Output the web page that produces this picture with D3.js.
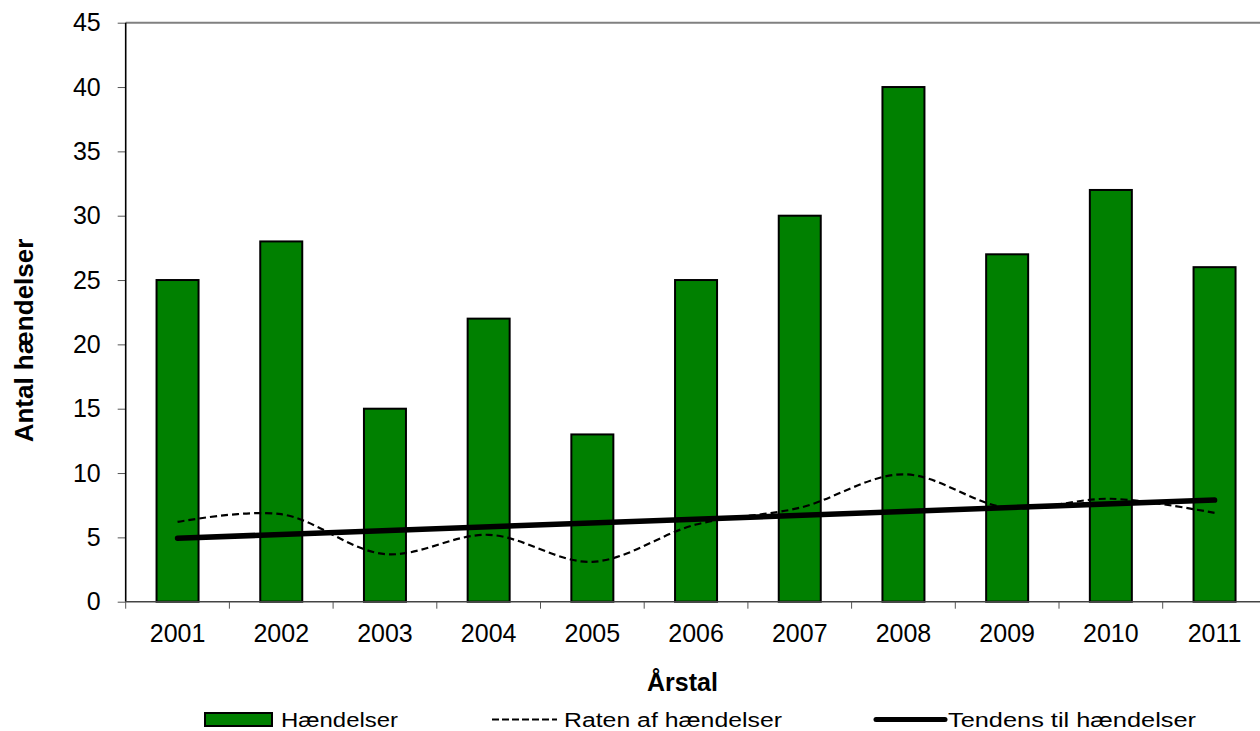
<!DOCTYPE html>
<html>
<head>
<meta charset="utf-8">
<script src="https://cdn.jsdelivr.net/npm/d3@7/dist/d3.min.js"></script>
<style>
html, body { margin: 0; padding: 0; background: #fff; overflow: hidden; }
svg { display: block; font-family: "Liberation Sans", Arial, sans-serif; }
</style>
</head>
<body>
<svg id="chart" width="1260" height="731"></svg>
<script>
// ---- data ----
const years = ["2001","2002","2003","2004","2005","2006","2007","2008","2009","2010","2011"];
const events = [25, 28, 15, 22, 13, 25, 30, 40, 27, 32, 26];          // Hændelser
const rate = [6.2, 6.8, 3.7, 5.2, 3.1, 6.0, 7.3, 9.9, 7.3, 8.0, 6.9];  // Raten af hændelser
const trendYears = ["2001", "2011"];
const trendValues = [4.93, 7.9];                                      // Tendens til hændelser
const yTicks = [0, 5, 10, 15, 20, 25, 30, 35, 40, 45];
const legendLabels = ["Hændelser", "Raten af hændelser", "Tendens til hændelser"];
const xTitle = "Årstal";
const yTitle = "Antal hændelser";

(function () {
// ---- layout ----
const pL = 125.7, pR = 1266.4, pT = 22.7, pB = 601.7;
const svg = d3.select("#chart");

const x = d3.scaleBand().domain(years).range([pL, pR]).paddingInner(0).paddingOuter(0);
const y = d3.scaleLinear().domain([0, 45]).range([pB, pT]);
const barW = x.bandwidth() * 0.405;
const cx = d => x(d) + x.bandwidth() / 2;

// top border
svg.append("line").attr("x1", pL).attr("x2", 1260).attr("y1", y(45)).attr("y2", y(45))
  .attr("stroke", "#808080").attr("stroke-width", 2);

// bars
svg.append("g").selectAll("rect").data(years).join("rect")
  .attr("x", (d) => cx(d) - barW / 2)
  .attr("y", (d, i) => y(events[i]))
  .attr("width", barW)
  .attr("height", (d, i) => y(0) - y(events[i]))
  .attr("fill", "#008000")
  .attr("stroke", "#000")
  .attr("stroke-width", 2);

// y axis
const yAxis = svg.append("g").attr("transform", `translate(${pL},0)`)
  .call(d3.axisLeft(y).tickValues(yTicks).tickSize(8).tickPadding(17).tickFormat(d3.format("d")));
yAxis.select(".domain").remove();
yAxis.selectAll(".tick line").attr("stroke", "#555").attr("stroke-width", 1);
yAxis.selectAll(".tick text").attr("font-size", 25).attr("fill", "#000")
  .attr("font-family", "Liberation Sans, Arial, sans-serif");
svg.append("line").attr("x1", pL).attr("x2", pL).attr("y1", pT).attr("y2", pB)
  .attr("stroke", "#000").attr("stroke-width", 1.6);

// x axis
const xAxis = svg.append("g").attr("transform", `translate(0,${pB})`)
  .call(d3.axisBottom(x).tickSize(0).tickPadding(23));
xAxis.select(".domain").remove();
xAxis.selectAll(".tick text").attr("font-size", 25).attr("fill", "#000")
  .attr("font-family", "Liberation Sans, Arial, sans-serif");
svg.append("line").attr("x1", pL).attr("x2", 1260).attr("y1", pB).attr("y2", pB)
  .attr("stroke", "#444").attr("stroke-width", 1.6);
// category boundary ticks
svg.append("g").selectAll("line").data(years).join("line")
  .attr("x1", d => x(d)).attr("x2", d => x(d))
  .attr("y1", pB).attr("y2", pB + 7)
  .attr("stroke", "#555").attr("stroke-width", 1);

// rate line (smoothed, dashed)
const rateLine = d3.line().x((d, i) => cx(years[i])).y(d => y(d)).curve(d3.curveCatmullRom.alpha(0.5));
svg.append("path").attr("d", rateLine(rate))
  .attr("fill", "none").attr("stroke", "#000").attr("stroke-width", 2.2)
  .attr("stroke-dasharray", "7,4");

// trend line
const trendLine = d3.line().x((d, i) => cx(trendYears[i])).y(d => y(d));
svg.append("path").attr("d", trendLine(trendValues))
  .attr("fill", "none").attr("stroke", "#000").attr("stroke-width", 5.5)
  .attr("stroke-linecap", "round");

// axis titles
svg.append("text").attr("x", 682.5).attr("y", 690.5).attr("text-anchor", "middle")
  .attr("font-size", 25).attr("font-weight", "bold").text(xTitle);
svg.append("text").attr("transform", "translate(33,340.5) rotate(-90)").attr("text-anchor", "middle")
  .attr("font-size", 26).attr("font-weight", "bold").text(yTitle);

// legend
const lg = svg.append("g");
lg.append("rect").attr("x", 205).attr("y", 713).attr("width", 67).attr("height", 13)
  .attr("fill", "#008000").attr("stroke", "#000").attr("stroke-width", 2);
lg.append("line").attr("x1", 492).attr("x2", 557).attr("y1", 719.5).attr("y2", 719.5)
  .attr("stroke", "#000").attr("stroke-width", 2).attr("stroke-dasharray", "7,3");
lg.append("line").attr("x1", 876).attr("x2", 945).attr("y1", 719.5).attr("y2", 719.5)
  .attr("stroke", "#000").attr("stroke-width", 5).attr("stroke-linecap", "round");
const legendPos = [[281, 117], [564, 218], [948, 248]];
legendLabels.forEach((t, i) => {
  lg.append("text").attr("x", legendPos[i][0]).attr("y", 726.5)
    .attr("font-size", 19.5)
    .attr("textLength", legendPos[i][1]).attr("lengthAdjust", "spacingAndGlyphs")
    .text(t);
});
})();
</script>
</body>
</html>
